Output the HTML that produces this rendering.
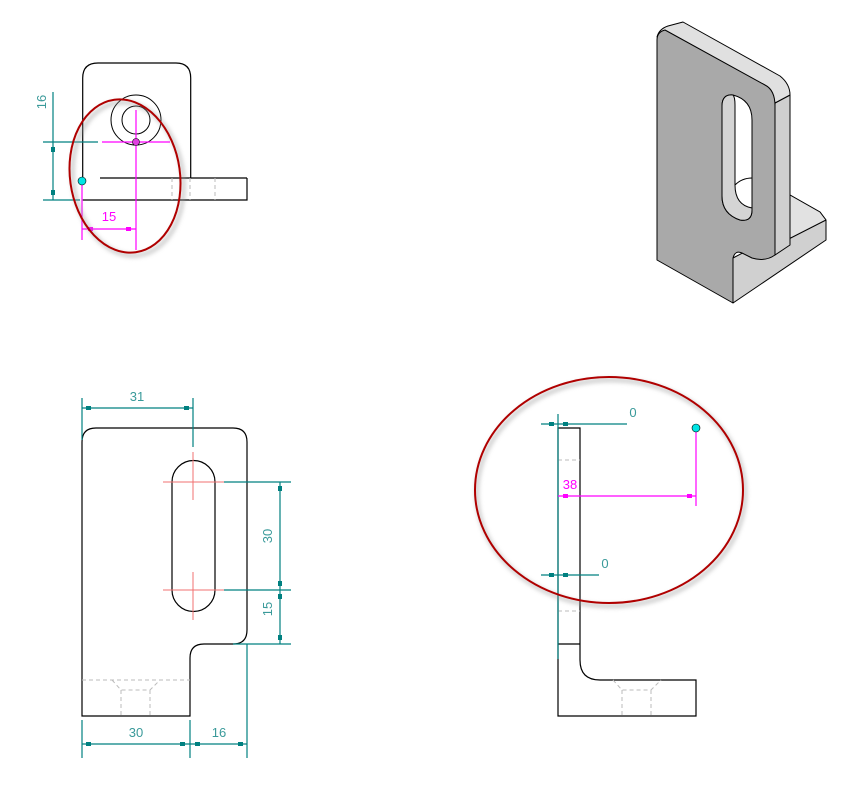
<!DOCTYPE html>
<html><head><meta charset="utf-8"><style>
html,body{margin:0;padding:0;background:#fff;}
svg{display:block;font-family:"Liberation Sans",sans-serif;}
</style></head><body>
<svg width="853" height="792" viewBox="0 0 853 792" xmlns="http://www.w3.org/2000/svg">
<defs>
<filter id="sh" x="-20%" y="-20%" width="140%" height="140%"><feGaussianBlur stdDeviation="2"/></filter>
</defs>
<!-- TOP LEFT VIEW -->
<g fill="none" stroke="#000" stroke-width="1.2">
<path d="M82.7 178 V78 Q82.7 63 98 63 H176 Q190.7 63 190.7 78 V178"/>
<line x1="100" y1="178" x2="247" y2="178"/>
<path d="M82.7 200 H247 V178"/>
<circle cx="136" cy="120" r="25" stroke-width="1"/>
<circle cx="136" cy="120" r="14" stroke-width="1"/>
</g>
<g stroke="#bbb" stroke-dasharray="4,3" stroke-width="1">
<line x1="172" y1="178" x2="172" y2="200"/><line x1="190" y1="178" x2="190" y2="200"/><line x1="215" y1="178" x2="215" y2="200"/>
</g>
<g stroke="#ff00ff" stroke-width="1.2">
<line x1="102" y1="142" x2="170" y2="142"/>
<line x1="136" y1="110" x2="136" y2="250"/>
<line x1="82" y1="181" x2="82" y2="240"/>
<line x1="82" y1="229" x2="136" y2="229"/>
</g>
<rect x="88" y="227" width="5" height="4" fill="#ff00ff"/><rect x="126" y="227" width="5" height="4" fill="#ff00ff"/>
<text x="109" y="221" font-size="13" fill="#ff00ff" text-anchor="middle">15</text>
<circle cx="136" cy="142" r="3.5" fill="#e040e0" stroke="#000" stroke-width=".6"/>
<g stroke="#008080" stroke-width="1.2">
<line x1="53" y1="92" x2="53" y2="200"/>
<line x1="43" y1="142" x2="98" y2="142"/>
<line x1="43" y1="200" x2="80" y2="200"/>
</g>
<rect x="51" y="147" width="4" height="5" fill="#008080"/><rect x="51" y="190" width="4" height="5" fill="#008080"/>
<text transform="translate(46,102) rotate(-90)" font-size="13" fill="#3a9a9a" text-anchor="middle">16</text>
<circle cx="82" cy="181" r="4" fill="#00e5e5" stroke="#000" stroke-width=".6"/>
<ellipse cx="128" cy="179" rx="55" ry="77" fill="none" stroke="#999" stroke-width="4" opacity=".5" filter="url(#sh)" transform="rotate(-8 128 179)"/>
<ellipse cx="125" cy="176" rx="55" ry="77" fill="none" stroke="#b00000" stroke-width="2" transform="rotate(-8 125 176)"/>

<!-- ISO VIEW -->
<g stroke="#000" stroke-width="1" stroke-linejoin="round">
<polygon points="775,195 790,195 820,212 826,220 826,240 733,303 733,258 775,236" fill="#d0d0d0"/>
<polygon points="775,195 790,195 820,212 826,220 775,246" fill="#e2e2e2"/>
<polygon points="775,103 790,95 790,245 775,255" fill="#cfcfcf"/>
<path d="M657 37 Q659 29 668 26 L683 22 L780 76 Q790 84 790 95 L775 103 Q772 92 765 87 L665 31 Z" fill="#e0e0e0"/>
<path d="M665 30 Q657 32 657 40 V260 L733 303 V258 Q735 250 742 253 L752 258 Q765 262 775 255 V106 Q775 90 765 85 Z" fill="#a9a9a9"/>
<path d="M722 106 Q722 94 733 95 Q752 100 752 120 V210 Q752 222 740 220 Q722 214 722 196 Z" fill="#fff"/>
<path d="M722 106 Q722 94 733 95 Q735 97 735 105 V185 Q735 205 752 208 V210 Q752 222 740 220 Q722 214 722 196 Z" fill="#d4d4d4"/>
<path d="M735 185 Q742 178 752 178" fill="none"/>
</g>

<!-- BOTTOM LEFT VIEW -->
<g fill="none" stroke="#000" stroke-width="1.2">
<path d="M82 716 V442 Q82 428 96 428 H233 Q247 428 247 442 V630 Q247 644 233 644 H204 Q190 644 190 658 V716 Z"/>
<path d="M172 482 A21.5 21.5 0 0 1 215 482 V590 A21.5 21.5 0 0 1 172 590 Z"/>
</g>
<g stroke="#f07070" stroke-width="1">
<line x1="163" y1="482" x2="224" y2="482"/><line x1="193" y1="452" x2="193" y2="500"/>
<line x1="163" y1="590" x2="224" y2="590"/><line x1="193" y1="572" x2="193" y2="620"/>
</g>
<g stroke="#bbb" stroke-dasharray="4,3" stroke-width="1" fill="none">
<line x1="82" y1="680" x2="190" y2="680"/>
<path d="M112 680 L121 690 H150 L160 680"/>
<line x1="121" y1="690" x2="121" y2="716"/><line x1="150" y1="690" x2="150" y2="716"/>
</g>
<g stroke="#008080" stroke-width="1.2">
<line x1="82" y1="398" x2="82" y2="440"/><line x1="193" y1="398" x2="193" y2="447"/>
<line x1="82" y1="408" x2="193" y2="408"/>
<line x1="224" y1="482" x2="291" y2="482"/><line x1="224" y1="590" x2="291" y2="590"/><line x1="233" y1="644" x2="291" y2="644"/>
<line x1="280" y1="482" x2="280" y2="644"/>
<line x1="82" y1="720" x2="82" y2="758"/><line x1="190" y1="720" x2="190" y2="758"/><line x1="247" y1="644" x2="247" y2="758"/>
<line x1="82" y1="744" x2="247" y2="744"/>
</g>
<g fill="#008080">
<rect x="86" y="406" width="5" height="4"/><rect x="184" y="406" width="5" height="4"/>
<rect x="278" y="486" width="4" height="5"/><rect x="278" y="581" width="4" height="5"/>
<rect x="278" y="594" width="4" height="5"/><rect x="278" y="635" width="4" height="5"/>
<rect x="86" y="742" width="5" height="4"/><rect x="180" y="742" width="5" height="4"/>
<rect x="195" y="742" width="5" height="4"/><rect x="238" y="742" width="5" height="4"/>
</g>
<g font-size="13" fill="#3a9a9a" text-anchor="middle">
<text x="137" y="401">31</text>
<text transform="translate(272,536) rotate(-90)">30</text>
<text transform="translate(272,609) rotate(-90)">15</text>
<text x="136" y="737">30</text>
<text x="219" y="737">16</text>
</g>

<!-- RIGHT VIEW -->
<g fill="none" stroke="#000" stroke-width="1.2">
<path d="M558 428 H580 V660 Q580 680 600 680 H696 V716 H558 Z"/>
<line x1="558" y1="644" x2="580" y2="644"/>
</g>
<g stroke="#bbb" stroke-dasharray="4,3" stroke-width="1" fill="none">
<line x1="558" y1="460" x2="580" y2="460"/><line x1="558" y1="611" x2="580" y2="611"/>
<path d="M613 680 L622 690 H651 L661 680"/>
<line x1="622" y1="690" x2="622" y2="716"/><line x1="651" y1="690" x2="651" y2="716"/>
</g>
<g stroke="#008080" stroke-width="1.2">
<line x1="558" y1="414" x2="558" y2="659"/>
<line x1="541" y1="424" x2="627" y2="424"/>
<line x1="541" y1="575" x2="599" y2="575"/>
</g>
<g fill="#008080">
<rect x="549" y="422" width="5" height="4"/><rect x="563" y="422" width="5" height="4"/>
<rect x="549" y="573" width="5" height="4"/><rect x="563" y="573" width="5" height="4"/>
</g>
<g font-size="13" fill="#3a9a9a" text-anchor="middle"><text x="633" y="417">0</text><text x="605" y="568">0</text></g>
<g stroke="#ff00ff" stroke-width="1.2">
<line x1="696" y1="428" x2="696" y2="506"/>
<line x1="558" y1="496" x2="696" y2="496"/>
</g>
<rect x="563" y="494" width="5" height="4" fill="#ff00ff"/><rect x="687" y="494" width="5" height="4" fill="#ff00ff"/>
<text x="570" y="489" font-size="13" fill="#ff00ff" text-anchor="middle">38</text>
<circle cx="696" cy="428" r="4" fill="#00e5e5" stroke="#000" stroke-width=".6"/>
<ellipse cx="611" cy="493" rx="134" ry="113" fill="none" stroke="#999" stroke-width="4" opacity=".5" filter="url(#sh)"/>
<ellipse cx="609" cy="490" rx="134" ry="113" fill="none" stroke="#b00000" stroke-width="2"/>
</svg>
</body></html>
